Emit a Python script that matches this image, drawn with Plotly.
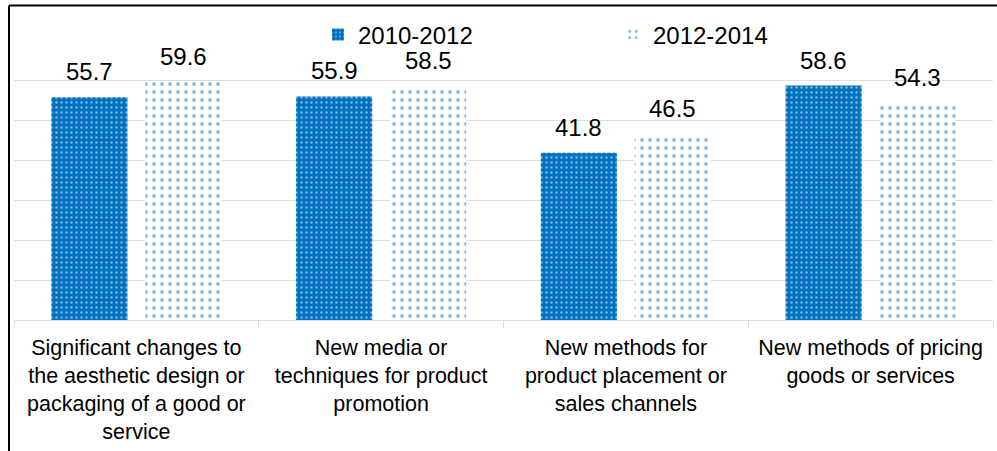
import plotly.graph_objects as go

categories = [
    "Significant changes to<br>the aesthetic design or<br>packaging of a good or<br>service",
    "New media or<br>techniques for product<br>promotion",
    "New methods for<br>product placement or<br>sales channels",
    "New methods of pricing<br>goods or services",
]
series_names = ["2010-2012", "2012-2014"]
values_2010_2012 = [55.7, 55.9, 41.8, 58.6]
values_2012_2014 = [59.6, 58.5, 46.5, 54.3]

FONT = "Liberation Sans, Arial, sans-serif"
BLUE = "#0070C0"
GRID = "#D9DEE5"

fig = go.Figure()
fig.add_trace(go.Bar(
    name=series_names[0], x=categories, y=values_2010_2012,
    marker=dict(color=BLUE, line=dict(width=0),
                pattern=dict(shape=".", bgcolor=BLUE, fgcolor="white",
                             size=5, solidity=0.18)),
))
fig.add_trace(go.Bar(
    name=series_names[1], x=categories, y=values_2012_2014,
    marker=dict(color="white", line=dict(width=0),
                pattern=dict(shape=".", bgcolor="white", fgcolor="#1F74C4",
                             size=8, solidity=0.18)),
))

# value labels above each bar
annotations = []
for vals, shift in ((values_2010_2012, -47), (values_2012_2014, 47)):
    for cat, v in zip(categories, vals):
        annotations.append(dict(
            x=cat, y=v, xref="x", yref="y", text=f"{v:.1f}",
            showarrow=False, xshift=shift, yanchor="bottom", yshift=10,
            font=dict(family=FONT, size=24, color="black"),
        ))

fig.update_layout(
    width=997, height=451,
    margin=dict(l=14, r=4, t=40, b=131),
    paper_bgcolor="white", plot_bgcolor="white",
    barmode="group", bargap=0.232, bargroupgap=0.19,
    font=dict(family=FONT, color="black"),
    showlegend=True,
    legend=dict(orientation="h", x=0.3105, xanchor="left", y=1.018,
                yanchor="middle", font=dict(family=FONT, size=24),
                entrywidth=250, entrywidthmode="pixels",
                bgcolor="rgba(0,0,0,0)"),
    annotations=annotations,
    shapes=[
        dict(type="line", xref="paper", yref="paper",
             x0=-0.0051, x1=1.01, y0=1.123, y1=1.123,
             line=dict(color="black", width=2)),
        dict(type="line", xref="paper", yref="paper",
             x0=-0.0051, x1=-0.0051, y0=1.123, y1=-0.47,
             line=dict(color="black", width=2)),
    ],
)
fig.update_xaxes(
    showgrid=False, showline=True, linecolor=GRID, linewidth=1,
    ticks="outside", tickson="boundaries", ticklen=7, tickcolor=GRID,
    ticklabelstandoff=8,
    tickfont=dict(family=FONT, size=21.5, color="black"),
)
fig.update_yaxes(
    range=[0, 70], dtick=10, showgrid=True, gridcolor=GRID, gridwidth=1,
    showticklabels=False, zeroline=False, showline=False,
)

fig.write_html("out.html")
